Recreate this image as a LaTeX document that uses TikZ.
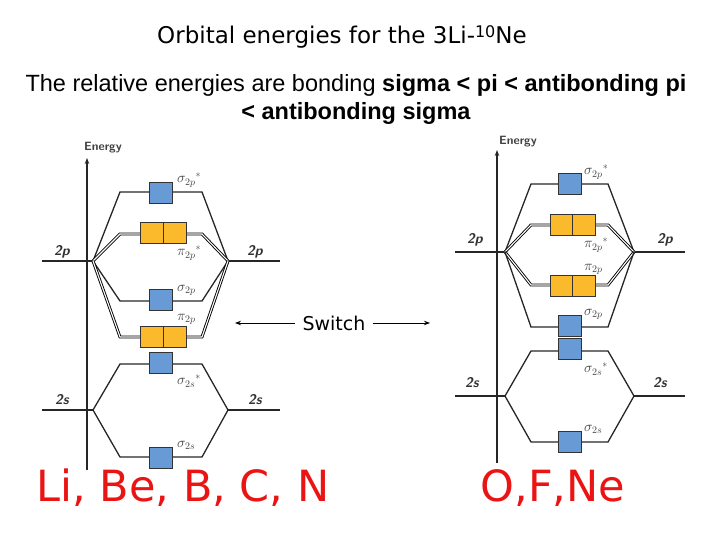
\documentclass[tikz,border=0pt]{standalone}
\usepackage{fontspec}
\setmainfont{Liberation Sans}
\newfontfamily\comic{DejaVu Sans}
\usetikzlibrary{arrows.meta}
\definecolor{mob}{RGB}{104,155,214}
\definecolor{moo}{RGB}{250,186,44}
\definecolor{redt}{RGB}{235,20,20}
\begin{document}
\begin{tikzpicture}[x=1pt,y=-1pt,
  lvl/.style={line width=1.3pt,draw=black!85},
  dbl/.style={line width=0.9pt,draw=black,double=white,double distance=1.1pt},
  bbox/.style={draw=black!80,line width=0.8pt,fill=mob,minimum width=23pt,minimum height=21pt,inner sep=0pt},
  obox/.style={draw=black!80,line width=0.8pt,fill=moo,minimum width=23pt,minimum height=21pt,inner sep=0pt},
  lab/.style={font=\sffamily\bfseries\itshape\fontsize{14}{16}\selectfont,text=black!80,inner sep=0pt},
  ml/.style={anchor=west,inner sep=0pt,text=black!75,font=\fontsize{14}{16}\selectfont},
  ax/.style={line width=1.3pt,draw=black!85,-{Stealth[length=6pt]}}]
\useasboundingbox (0,0) rectangle (720,540);
\node[font=\comic\fontsize{23}{26}\selectfont] (title) at (342,37) {Orbital energies for the 3Li-\raisebox{0.5ex}{\fontsize{16}{17}\selectfont 10}Ne};
\node[font=\fontsize{23.5}{28}\selectfont,align=center] (sub) at (356,99) {The relative energies are bonding \textbf{sigma < pi < antibonding pi}\\ \textbf{< antibonding sigma}};
% ---------------- left diagram
\coordinate (LA0) at (87,470); \coordinate (LA1) at (87,158);
\draw[ax] (LA0) -- (LA1);
\node[font=\sffamily\bfseries\fontsize{12}{14}\selectfont,text=black!75] (LE) at (103,148) {Energy};
\coordinate (Lpl) at (93,261); \coordinate (Lpr) at (228,261);
\coordinate (Lsl) at (93,410); \coordinate (Lsr) at (228,410);
\coordinate (Lpl0) at (42,261); \coordinate (Lpr0) at (280,261);
\coordinate (Lsl0) at (42,410); \coordinate (Lsr0) at (280,410);
\draw[lvl] (Lpl0) -- (Lpl); \draw[lvl] (Lpr) -- (Lpr0);
\draw[lvl] (Lsl0) -- (Lsl); \draw[lvl] (Lsr) -- (Lsr0);
\draw[lvl] (Lpl) -- (120,192) -- (202,192) -- (Lpr);
\draw[dbl] (Lpl) -- (120,234) -- (202,234) -- (Lpr);
\draw[lvl] (Lpl) -- (120,301) -- (202,301) -- (Lpr);
\draw[dbl] (Lpl) -- (120,337) -- (202,337) -- (Lpr);
\draw[lvl] (Lsl) -- (120,364) -- (202,364) -- (Lsr);
\draw[lvl] (Lsl) -- (120,457) -- (202,457) -- (Lsr);
\node[bbox] (L1) at (161,192.5) {};
\node[obox] (L2a) at (152,232.5) {}; \node[obox] (L2b) at (175,232.5) {};
\node[bbox] (L3) at (161,299.5) {};
\node[obox] (L4a) at (152,336.5) {}; \node[obox] (L4b) at (175,336.5) {};
\node[bbox] (L5) at (161,362.5) {};
\node[bbox] (L6) at (161,457.5) {};
\node[lab] (L2pl) at (62,252) {2p}; \node[lab] (L2pr) at (255,252) {2p};
\node[lab] (L2sl) at (62,400) {2s}; \node[lab] (L2sr) at (255,400) {2s};
\node[ml] (m1) at (177,180) {$\sigma_{2p}{}^{*}$};
\node[ml] (m2) at (177,253) {$\pi_{2p}{}^{*}$};
\node[ml] (m3) at (177,290) {$\sigma_{2p}$};
\node[ml] (m4) at (177,319) {$\pi_{2p}$};
\node[ml] (m5) at (177,381) {$\sigma_{2s}{}^{*}$};
\node[ml] (m6) at (177,445) {$\sigma_{2s}$};
% ---------------- right diagram
\coordinate (RA0) at (497,463); \coordinate (RA1) at (497,150);
\draw[ax] (RA0) -- (RA1);
\node[font=\sffamily\bfseries\fontsize{12}{14}\selectfont,text=black!75] (RE) at (518,142) {Energy};
\coordinate (Rpl) at (505,252); \coordinate (Rpr) at (634,252);
\coordinate (Rsl) at (505,396); \coordinate (Rsr) at (634,396);
\coordinate (Rpl0) at (455,252); \coordinate (Rpr0) at (685,252);
\coordinate (Rsl0) at (455,396); \coordinate (Rsr0) at (685,396);
\draw[lvl] (Rpl0) -- (Rpl); \draw[lvl] (Rpr) -- (Rpr0);
\draw[lvl] (Rsl0) -- (Rsl); \draw[lvl] (Rsr) -- (Rsr0);
\draw[lvl] (Rpl) -- (531,184) -- (608,184) -- (Rpr);
\draw[dbl] (Rpl) -- (531,225) -- (608,225) -- (Rpr);
\draw[dbl] (Rpl) -- (531,285) -- (608,285) -- (Rpr);
\draw[lvl] (Rpl) -- (531,327) -- (608,327) -- (Rpr);
\draw[lvl] (Rsl) -- (531,351) -- (608,351) -- (Rsr);
\draw[lvl] (Rsl) -- (531,442) -- (608,442) -- (Rsr);
\node[bbox] (R1) at (570,184) {};
\node[obox] (R2a) at (561.5,224.5) {}; \node[obox] (R2b) at (584,224.5) {};
\node[obox] (R3a) at (561.5,286) {}; \node[obox] (R3b) at (584,286) {};
\node[bbox] (R4) at (570,326) {};
\node[bbox] (R5) at (570,349) {};
\node[bbox] (R6) at (570,441.5) {};
\node[lab] (R2pl) at (475,240) {2p}; \node[lab] (R2pr) at (665,240) {2p};
\node[lab] (R2sl) at (472,383) {2s}; \node[lab] (R2sr) at (660,383) {2s};
\node[ml] (n1) at (584,172) {$\sigma_{2p}{}^{*}$};
\node[ml] (n2) at (584,245) {$\pi_{2p}{}^{*}$};
\node[ml] (n3) at (584,269) {$\pi_{2p}$};
\node[ml] (n4) at (584,314) {$\sigma_{2p}$};
\node[ml] (n5) at (584,369) {$\sigma_{2s}{}^{*}$};
\node[ml] (n6) at (584,429) {$\sigma_{2s}$};
% ---------------- switch
\node[font=\comic\fontsize{19}{22}\selectfont] (sw) at (334,323) {Switch};
\coordinate (sl) at (235,323); \coordinate (sr) at (430,323);
\draw[line width=1pt,-{Stealth[length=6pt]}] (sw.west) ++(-4,0) -- (sl);
\draw[line width=1pt,-{Stealth[length=6pt]}] (sw.east) ++(4,0) -- (sr);
\node[font=\comic\fontsize{43}{46}\selectfont,text=redt] (lt) at (183,488) {Li, Be, B, C, N};
\node[font=\comic\fontsize{43}{46}\selectfont,text=redt] (rt) at (553,488) {O,F,Ne};
\end{tikzpicture}
\end{document}
